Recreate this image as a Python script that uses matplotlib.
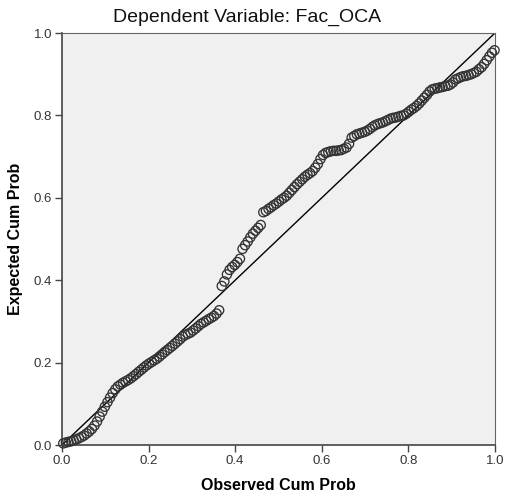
import numpy as np
import matplotlib.pyplot as plt

plt.rcParams['font.family'] = ['Liberation Sans', 'DejaVu Sans']

# observed cumulative probability (x) and expected cumulative probability (y)
observed = [
    0.003, 0.009, 0.015, 0.021, 0.027, 0.033, 0.039, 0.045, 0.051, 0.057,
    0.063, 0.069, 0.075, 0.081, 0.087, 0.093, 0.099, 0.105, 0.111, 0.117,
    0.123, 0.129, 0.135, 0.141, 0.147, 0.153, 0.159, 0.165, 0.171, 0.177,
    0.183, 0.189, 0.195, 0.201, 0.207, 0.213, 0.219, 0.225, 0.231, 0.237,
    0.243, 0.249, 0.255, 0.261, 0.267, 0.273, 0.279, 0.285, 0.291, 0.297,
    0.303, 0.309, 0.315, 0.321, 0.327, 0.333, 0.339, 0.345, 0.351, 0.357,
    0.363, 0.369, 0.375, 0.381, 0.387, 0.393, 0.399, 0.405, 0.411, 0.417,
    0.423, 0.429, 0.435, 0.441, 0.447, 0.453, 0.459, 0.465, 0.471, 0.477,
    0.483, 0.489, 0.495, 0.501, 0.507, 0.513, 0.519, 0.525, 0.531, 0.537,
    0.543, 0.549, 0.555, 0.561, 0.567, 0.573, 0.579, 0.585, 0.591, 0.597,
    0.603, 0.609, 0.615, 0.621, 0.627, 0.633, 0.639, 0.645, 0.651, 0.657,
    0.663, 0.669, 0.675, 0.681, 0.687, 0.693, 0.699, 0.705, 0.711, 0.717,
    0.723, 0.729, 0.735, 0.741, 0.747, 0.753, 0.759, 0.765, 0.771, 0.777,
    0.783, 0.789, 0.795, 0.801, 0.807, 0.813, 0.819, 0.825, 0.831, 0.837,
    0.843, 0.849, 0.855, 0.861, 0.867, 0.873, 0.879, 0.885, 0.891, 0.897,
    0.903, 0.909, 0.915, 0.921, 0.927, 0.933, 0.939, 0.945, 0.951, 0.957,
    0.963, 0.969, 0.975, 0.981, 0.987, 0.993, 0.999,
]
expected = [
    0.004, 0.006, 0.0075, 0.009, 0.011, 0.0135, 0.0165, 0.0195, 0.023, 0.028,
    0.033, 0.039, 0.047, 0.057, 0.069, 0.081, 0.093, 0.104, 0.115, 0.126,
    0.135, 0.142, 0.1465, 0.151, 0.1545, 0.158, 0.162, 0.167, 0.172, 0.1775,
    0.1825, 0.188, 0.193, 0.1975, 0.2015, 0.2055, 0.2095, 0.2145, 0.220, 0.2255,
    0.2305, 0.2355, 0.2405, 0.246, 0.2515, 0.257, 0.263, 0.267, 0.270, 0.273,
    0.278, 0.283, 0.2885, 0.294, 0.2975, 0.3015, 0.3055, 0.309, 0.313, 0.319,
    0.327, 0.386, 0.397, 0.414, 0.425, 0.432, 0.437, 0.444, 0.452, 0.476,
    0.485, 0.494, 0.504, 0.513, 0.520, 0.527, 0.534, 0.565, 0.568, 0.573,
    0.577, 0.582, 0.586, 0.591, 0.596, 0.600, 0.605, 0.612, 0.619, 0.626,
    0.633, 0.639, 0.645, 0.651, 0.656, 0.660, 0.665, 0.673, 0.682, 0.694,
    0.704, 0.709, 0.711, 0.713, 0.714, 0.714, 0.715, 0.716, 0.719, 0.722,
    0.731, 0.746, 0.750, 0.754, 0.756, 0.758, 0.760, 0.763, 0.767, 0.772,
    0.776, 0.779, 0.781, 0.783, 0.786, 0.789, 0.792, 0.794, 0.795, 0.797,
    0.799, 0.800, 0.804, 0.809, 0.814, 0.818, 0.823, 0.829, 0.836, 0.843,
    0.850, 0.858, 0.863, 0.865, 0.866, 0.868, 0.869, 0.871, 0.872, 0.875,
    0.880, 0.887, 0.890, 0.893, 0.895, 0.896, 0.898, 0.900, 0.903, 0.906,
    0.912, 0.917, 0.925, 0.934, 0.943, 0.952, 0.958,
]
ticks = [0.0, 0.2, 0.4, 0.6, 0.8, 1.0]

fig = plt.figure(figsize=(5.06, 4.97), dpi=100)
ax = fig.add_axes([0.1225, 0.1046, 0.8557, 0.829])
ax.set_facecolor('#f0f0f0')

ax.plot([0, 1], [0, 1], color='black', lw=1.0, zorder=2)
ax.scatter(observed, expected, s=44, facecolors='none', edgecolors='#333333',
           linewidths=0.95, zorder=3, clip_on=False)

ax.set_xlim(0, 1)
ax.set_ylim(0, 1)
ax.set_xticks(ticks)
ax.set_yticks(ticks)
ax.set_xticklabels(['%.1f' % t for t in ticks])
ax.set_yticklabels(['%.1f' % t for t in ticks])
ax.tick_params(direction='out', length=5, width=1, colors='#444444',
               labelsize=9.5, labelcolor='#333333', pad=2)

for side in ['left', 'bottom']:
    ax.spines[side].set_color('#444444')
    ax.spines[side].set_linewidth(1.2)
for side in ['top', 'right']:
    ax.spines[side].set_color('#666666')
    ax.spines[side].set_linewidth(0.8)

# title sits centred on the figure, not on the axes
fig.text(0.488, 0.965, 'Dependent Variable: Fac_OCA', fontsize=14,
         ha='center', va='center', color='#111111')
ax.set_xlabel('Observed Cum Prob', fontsize=11.5, fontweight='bold', labelpad=8)
ax.set_ylabel('Expected Cum Prob', fontsize=11.5, fontweight='bold', labelpad=8)

fig.savefig('out.png', dpi=100)
